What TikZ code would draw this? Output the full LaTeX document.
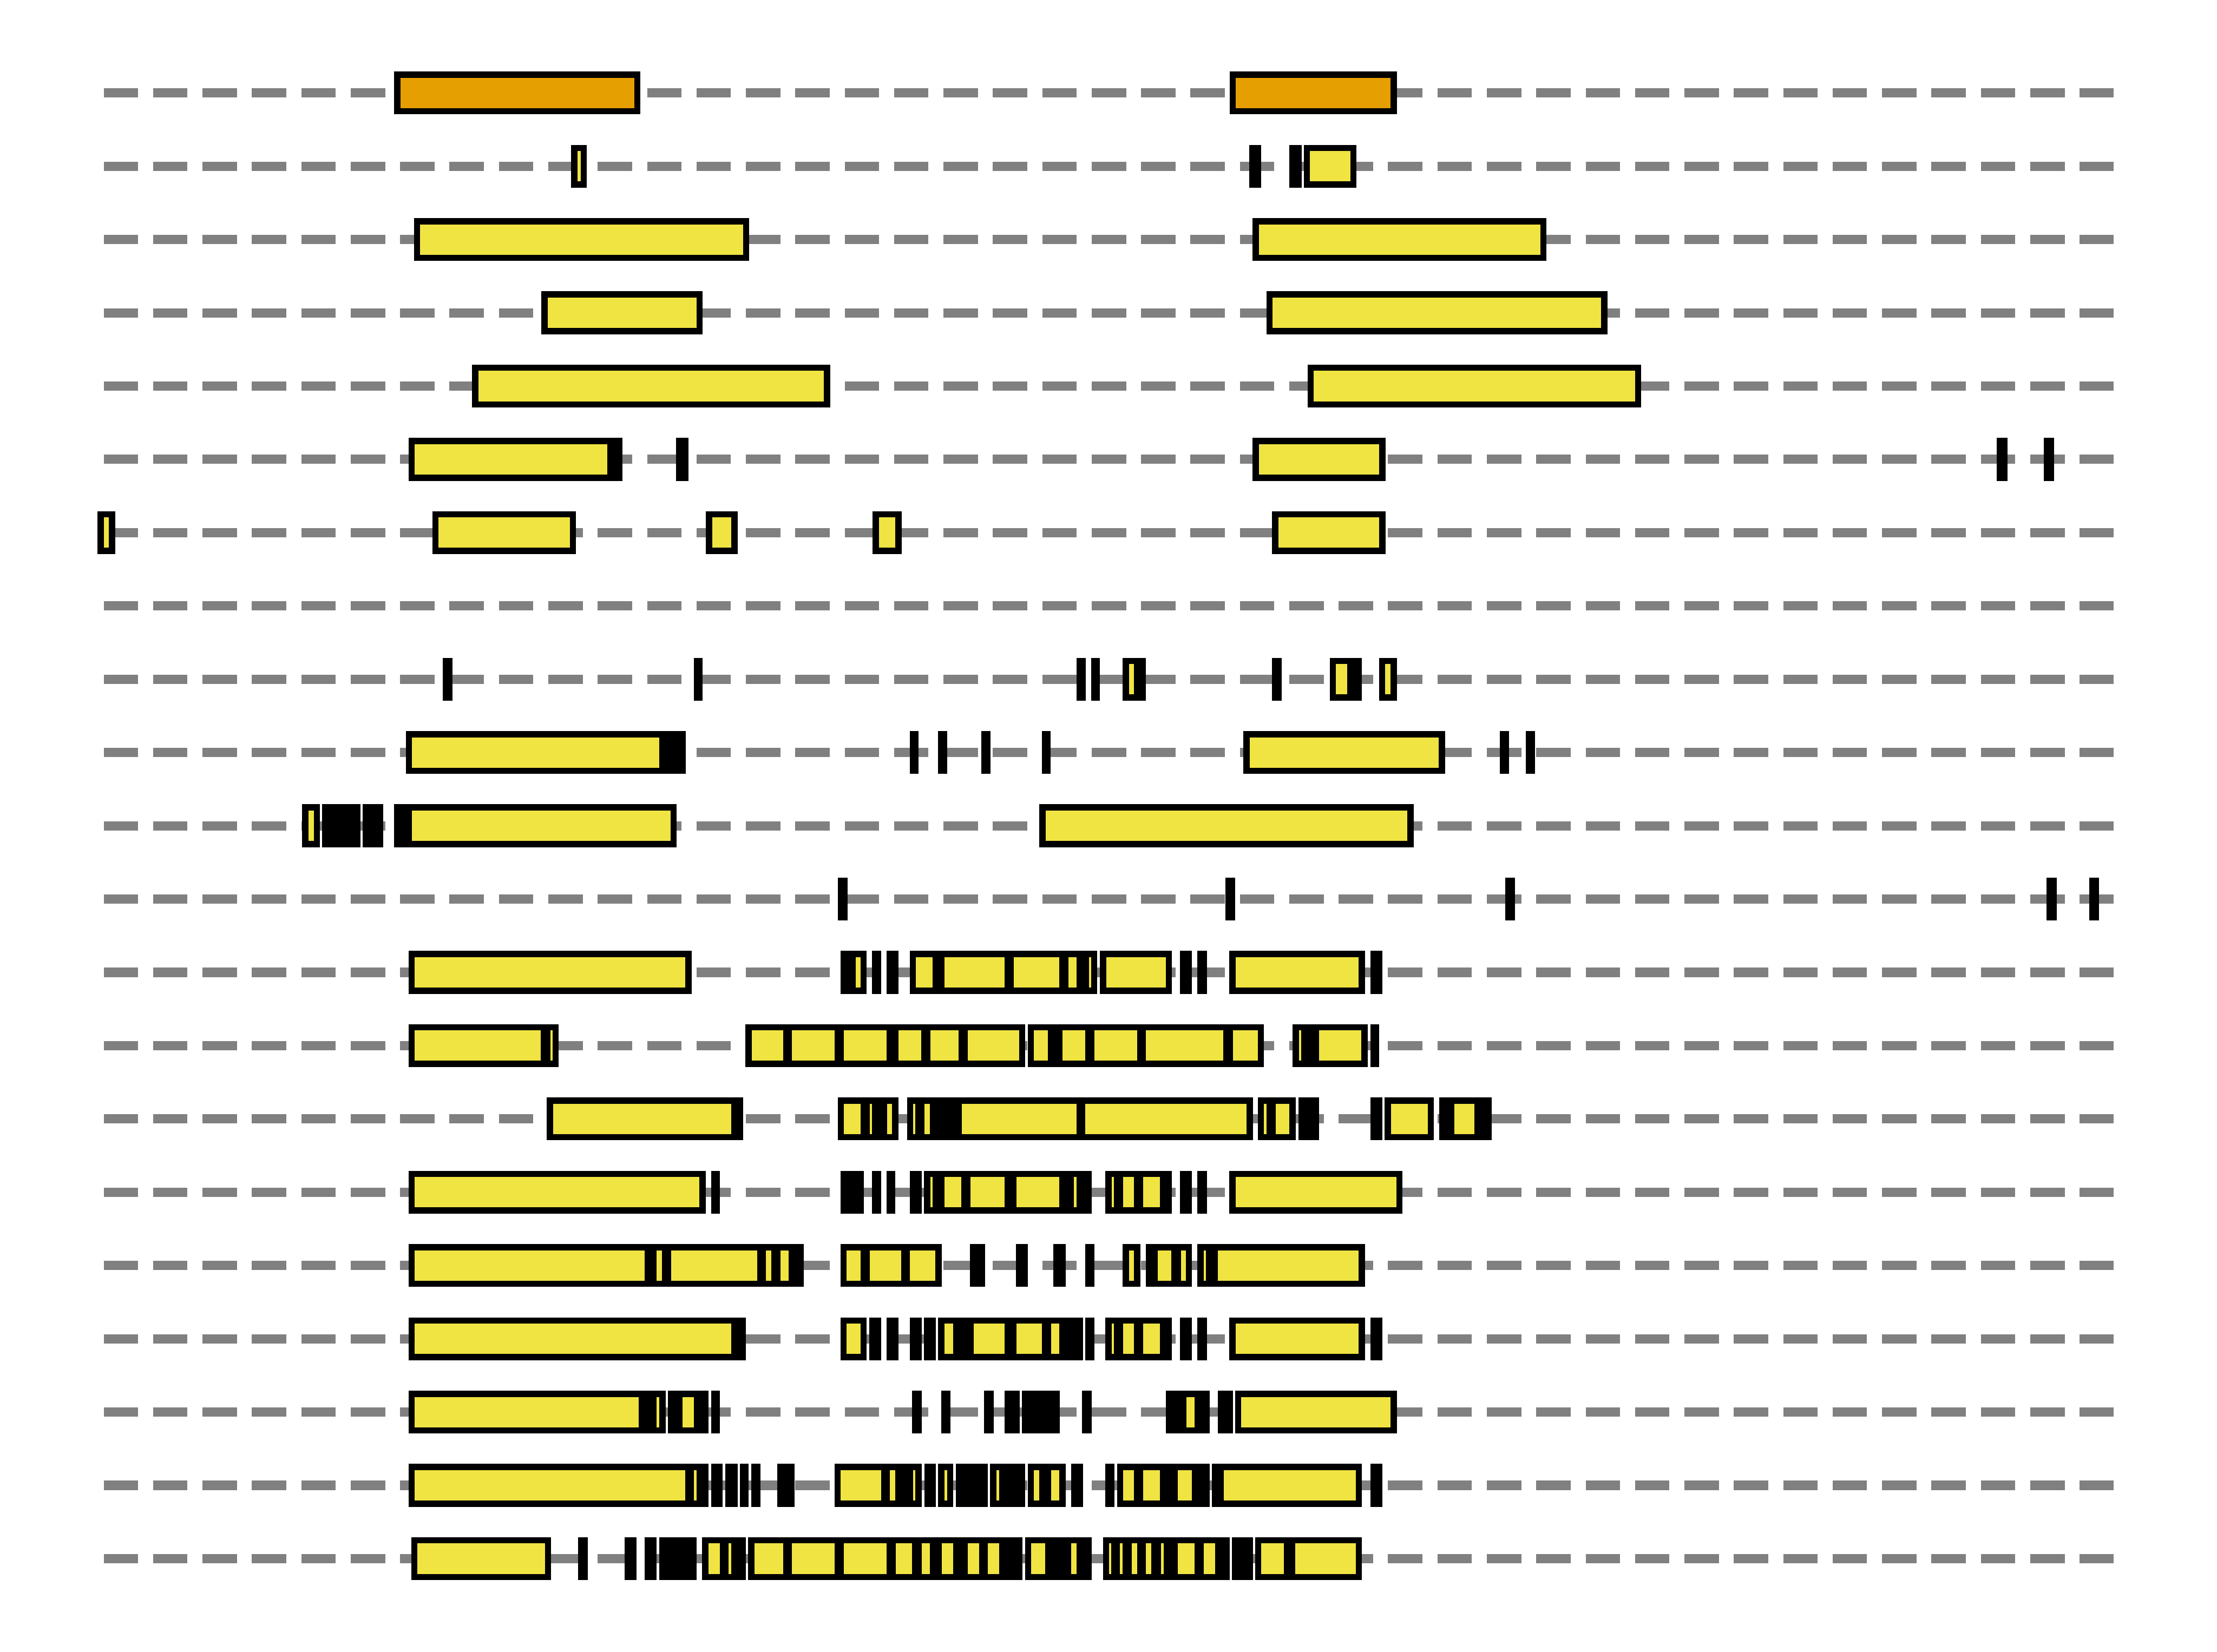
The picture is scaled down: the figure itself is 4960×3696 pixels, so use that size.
\documentclass[tikz,border=0pt]{standalone}
\definecolor{fy}{HTML}{F0E442}
\definecolor{fo}{HTML}{E69F00}
\definecolor{dg}{HTML}{808080}
\tikzset{trackline/.style={dg, line width=0.207cm, dash pattern=on 0.77cm off 0.3345cm}}
\newcommand\Blk[3]{\fill[black] ({#2},{164*(#1)-4}) rectangle ({#3},{164*(#1)+92});}
\newcommand\Yel[3]{\fill[fy] ({#2},{164*(#1)+10}) rectangle ({#3},{164*(#1)+78});}
\newcommand\Org[3]{\fill[fo] ({#2},{164*(#1)+10}) rectangle ({#3},{164*(#1)+78});}
\newcommand\G[4]{\Blk{#1}{#2}{#3}\foreach \p/\q in {#4}{\Yel{#1}{\p}{\q}}}
\newcommand\Bx[3]{\Blk{#1}{#2}{#3}\Yel{#1}{#2+14}{#3-14}}
\newcommand\Ox[3]{\Blk{#1}{#2}{#3}\Org{#1}{#2+14}{#3-14}}
\begin{document}
\begin{tikzpicture}[x=0.01cm,y=-0.01cm]
\useasboundingbox (0,0) rectangle (4960,3696);
\foreach \r in {1,...,21}{\draw[trackline] (232,{164*\r+44}) -- (4729,{164*\r+44});}
% row 1
\Ox{1}{882}{1433} \Ox{1}{2751}{3125}
% row 2
\Bx{2}{1278}{1313} \Blk{2}{2795}{2822} \Blk{2}{2885}{2912} \Bx{2}{2917}{3035}
% rows 3-5
\Bx{3}{926}{1676} \Bx{3}{2802}{3460}
\Bx{4}{1211}{1572} \Bx{4}{2833}{3596}
\Bx{5}{1056}{1857} \Bx{5}{2925}{3672}
% row 6
\G{6}{914}{1392}{928/1359} \Blk{6}{1513}{1540} \Bx{6}{2802}{3100}
\Blk{6}{4467}{4491} \Blk{6}{4572}{4596}
% row 7
\Bx{7}{218}{258} \Bx{7}{967}{1289} \Bx{7}{1579}{1650} \Bx{7}{1952}{2017} \Bx{7}{2846}{3100}
% row 9
\Blk{9}{991}{1012} \Blk{9}{1552}{1572} \Blk{9}{2409}{2429} \Blk{9}{2441}{2461}
\G{9}{2512}{2564}{2526/2537} \Blk{9}{2846}{2867} \G{9}{2975}{3047}{2989/3014} \G{9}{3085}{3125}{3099/3111}
% row 10
\G{10}{908}{1534}{922/1475}
\Blk{10}{2035}{2055} \Blk{10}{2099}{2119} \Blk{10}{2196}{2216} \Blk{10}{2331}{2351}
\Bx{10}{2782}{3233} \Blk{10}{3355}{3376} \Blk{10}{3413}{3434}
% row 11
\G{11}{676}{716}{690/702} \Blk{11}{721}{806} \Blk{11}{811}{857} \G{11}{882}{1514}{922/1500}
\Bx{11}{2325}{3163}
% row 12
\Blk{12}{1874}{1896} \Blk{12}{2741}{2763} \Blk{12}{3367}{3389} \Blk{12}{4579}{4601} \Blk{12}{4674}{4696}
% row 13
\Bx{13}{914}{1547} \G{13}{1880}{1939}{1914/1925} \Blk{13}{1951}{1971} \Blk{13}{1983}{2010}
\G{13}{2035}{2454}{2049/2087,2113/2248,2268/2370,2390/2409,2436/2441}
\Bx{13}{2461}{2622} \Blk{13}{2640}{2666} \Blk{13}{2679}{2700} \Bx{13}{2750}{3054} \Blk{13}{3066}{3093}
% row 14
\G{14}{914}{1250}{928/1210,1231/1236}
\G{14}{1668}{2293}{1682/1752,1772/1867,1888/1983,2010/2061,2081/2144,2165/2280}
\G{14}{2299}{2828}{2313/2344,2377/2428,2448/2544,2564/2737,2758/2814}
\G{14}{2892}{3060}{2906/2911,2951/3046} \Blk{14}{3066}{3086}
% row 15
\G{15}{1223}{1662}{1237/1636}
\G{15}{1874}{2010}{1888/1925,1946/1951,1985/1996}
\G{15}{2029}{2803}{2043/2048,2068/2080,2152/2409,2428/2789}
\G{15}{2814}{2899}{2828/2834,2854/2885} \Blk{15}{2905}{2951} \Blk{15}{3066}{3093}
\G{15}{3098}{3208}{3112/3194} \G{15}{3220}{3337}{3254/3298}
% row 16
\Bx{16}{914}{1579} \Blk{16}{1591}{1611} \Blk{16}{1880}{1933} \Blk{16}{1951}{1971}
\Blk{16}{1983}{2003} \Blk{16}{2035}{2062}
\G{16}{2067}{2442}{2081/2087,2113/2151,2171/2248,2274/2370,2403/2409}
\G{16}{2473}{2622}{2487/2492,2513/2537,2558/2595}
\Blk{16}{2640}{2666} \Blk{16}{2679}{2700} \Bx{16}{2750}{3138}
% row 17
\G{17}{914}{1798}{928/1442,1469/1481,1501/1694,1714/1726,1746/1764}
\G{17}{1880}{2107}{1894/1925,1946/2016,2036/2093}
\Blk{17}{2170}{2204} \Blk{17}{2273}{2300} \Blk{17}{2357}{2384} \Blk{17}{2428}{2448}
\G{17}{2512}{2551}{2526/2537} \G{17}{2563}{2667}{2590/2621,2642/2653}
\G{17}{2679}{3054}{2693/2698,2725/3040}
% row 18
\G{18}{914}{1669}{928/1636} \G{18}{1880}{1939}{1894/1925}
\Blk{18}{1945}{1971} \Blk{18}{1983}{2010} \Blk{18}{2035}{2062} \Blk{18}{2067}{2094}
\G{18}{2099}{2423}{2113/2132,2178/2248,2274/2331,2352/2370} \Blk{18}{2428}{2448}
\G{18}{2473}{2622}{2487/2492,2513/2537,2558/2595}
\Blk{18}{2640}{2666} \Blk{18}{2679}{2700} \Bx{18}{2750}{3054} \Blk{18}{3066}{3093}
% row 19
\G{19}{914}{1489}{928/1429,1469/1475} \G{19}{1494}{1585}{1527/1552} \Blk{19}{1591}{1611}
\Blk{19}{2041}{2062} \Blk{19}{2106}{2126} \Blk{19}{2202}{2223} \Blk{19}{2248}{2281}
\Blk{19}{2286}{2371} \Blk{19}{2421}{2442} \G{19}{2608}{2706}{2654/2673}
\Blk{19}{2724}{2758} \Bx{19}{2763}{3125}
% row 20
\G{20}{914}{1585}{928/1533,1553/1558}
\Blk{20}{1591}{1617} \Blk{20}{1623}{1650} \Blk{20}{1655}{1675} \Blk{20}{1681}{1701} \Blk{20}{1739}{1778}
\G{20}{1867}{2062}{1881/1971,1991/2003,2043/2048} \Blk{20}{2068}{2094}
\G{20}{2099}{2133}{2113/2119} \Blk{20}{2138}{2210} \G{20}{2215}{2294}{2229/2235}
\G{20}{2299}{2384}{2313/2325,2352/2370} \Blk{20}{2396}{2423} \Blk{20}{2473}{2493}
\G{20}{2499}{2706}{2513/2537,2558/2595,2635/2666} \G{20}{2711}{3047}{2738/3033} \Blk{20}{3066}{3093}
% row 21
\Bx{21}{920}{1233} \Blk{21}{1293}{1315} \Blk{21}{1397}{1424} \Blk{21}{1442}{1469} \Blk{21}{1475}{1559}
\G{21}{1571}{1669}{1585/1610,1630/1636}
\G{21}{1674}{2287}{1688/1752,1772/1867,1888/1983,2004/2041,2062/2080,2107/2132,2165/2190,2210/2235}
\G{21}{2293}{2442}{2307/2338,2397/2409}
\G{21}{2468}{2751}{2481/2486,2506/2512,2532/2544,2564/2576,2597/2603,2635/2673,2693/2718}
\Blk{21}{2756}{2803} \G{21}{2808}{3047}{2822/2872,2898/3033}
\end{tikzpicture}
\end{document}
